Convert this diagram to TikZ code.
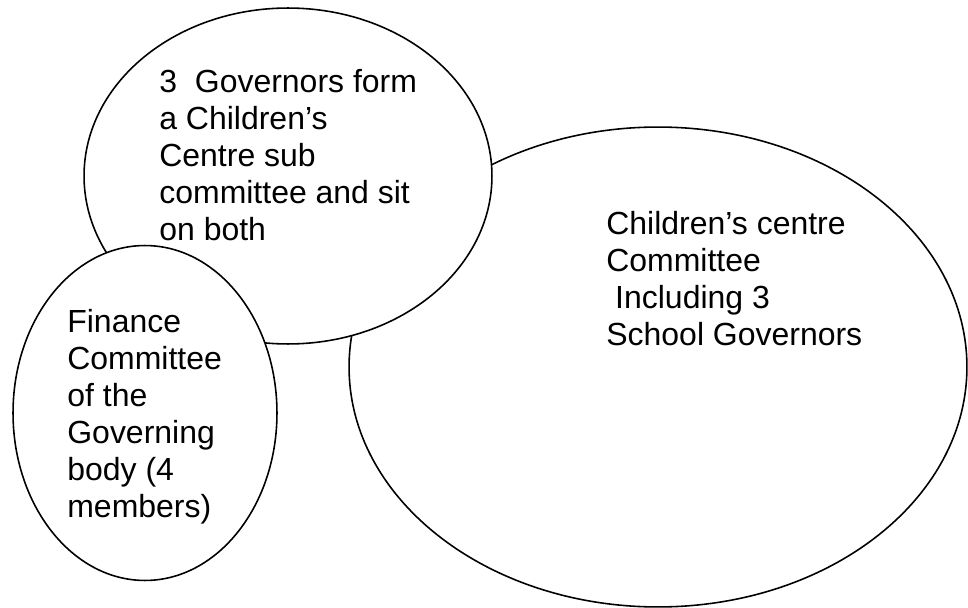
\documentclass[tikz,border=0pt]{standalone}
\usepackage{fontspec}
\setmainfont{Liberation Sans}
\usetikzlibrary{shapes.geometric}

\tikzset{
  bubble/.style={ellipse, draw=black, fill=white, line width=0.9pt, inner sep=0pt},
  label/.style={anchor=base west, align=left, inner sep=0pt,
    font=\fontsize{18.2}{21}\selectfont}
}

\begin{document}
\begin{tikzpicture}[x=0.02cm, y=-0.02cm]

  \useasboundingbox (0,0) rectangle (968,608);

  % -- Big committee ellipse (drawn first, lies underneath) --
  \node[bubble, minimum width=12.36cm, minimum height=9.6cm] (centre) at (658,367) {};

  % -- Sub committee ellipse --
  \node[bubble, minimum width=8.16cm, minimum height=6.72cm] (sub) at (288,176) {};

  % -- Finance ellipse (on top) --
  \node[bubble, minimum width=5.28cm, minimum height=6.7cm] (finance) at (145,413) {};

  % -- Texts (anchored at the baseline of the last line) --
  \node[label] (subtext) at (159,240) {3~~Governors form\\a Children’s\\Centre sub\\committee and sit\\on both};
  \node[label] (financetext) at (67,517) {Finance\\Committee\\of the\\Governing\\body (4\\members)};
  \node[label] (centretext) at (606,345) {Children’s centre\\Committee\\~Including 3\\School Governors};

\end{tikzpicture}
\end{document}
